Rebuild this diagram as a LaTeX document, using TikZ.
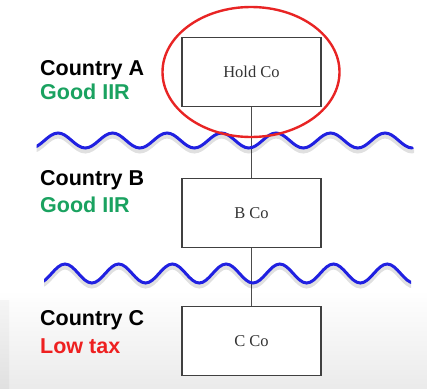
\documentclass[tikz,border=0pt]{standalone}
\usepackage{fontspec}
\setmainfont{Liberation Serif}
\newfontfamily\labelfont{Liberation Sans}
\begin{document}
\begin{tikzpicture}[x=1pt,y=-1pt,
  company/.style={draw=black!75,line width=1.4pt,fill=white,minimum width=139pt,
    minimum height=69pt,inner sep=0pt,font=\fontsize{16.5}{18}\selectfont,text=black!80},
  country/.style={anchor=base west,inner sep=0pt,font=\labelfont\bfseries\fontsize{21.5}{24}\selectfont},
  link/.style={draw=black!70,line width=1.4pt},
  border/.style={draw=wave,line width=3pt,line cap=round},
  bordershadow/.style={draw=black,opacity=0.12,line width=5pt,line cap=round},
]
\definecolor{goodgreen}{RGB}{26,162,96}
\definecolor{lowred}{RGB}{238,32,32}
\definecolor{wave}{RGB}{32,32,225}
\definecolor{ring}{RGB}{232,36,36}
\useasboundingbox (0,0) rectangle (427,388);

% pale grey fade along the bottom edge
\shade[top color=white,bottom color=black!8] (0,290) rectangle (427,388);
\shade[top color=black!4,bottom color=black!12] (0,300) rectangle (9,388);

% companies
\node[company] (hold) at (251.5,72) {Hold Co};
\node[company] (bco) at (251.5,213) {B Co};
\node[company] (cco) at (251.5,341) {C Co};

\draw[link] (hold.south) -- (bco.north);
\draw[link] (bco.south) -- (cco.north);

% border between countries A and B: seven periods of 54.5pt, built from quarter waves
\begin{scope}
  \clip (36.5,100) rectangle (414,170);
  \draw[bordershadow] (30.8,151) \foreach \k in {1,...,7} {
    cos ++(13.625,-7.5) sin ++(13.625,-7.5) cos ++(13.625,7.5) sin ++(13.625,7.5)};
  \draw[border] (30.8,148) \foreach \k in {1,...,7} {
    cos ++(13.625,-7.5) sin ++(13.625,-7.5) cos ++(13.625,7.5) sin ++(13.625,7.5)};
\end{scope}
% border between countries B and C: seven periods of 53.7pt
\begin{scope}
  \clip (44,240) rectangle (411,300);
  \draw[bordershadow] (38.15,286) \foreach \k in {1,...,7} {
    cos ++(13.425,-9.5) sin ++(13.425,-9.5) cos ++(13.425,9.5) sin ++(13.425,9.5)};
  \draw[border] (38.15,283) \foreach \k in {1,...,7} {
    cos ++(13.425,-9.5) sin ++(13.425,-9.5) cos ++(13.425,9.5) sin ++(13.425,9.5)};
\end{scope}

% highlight around the holding company
\draw[ring,line width=2.4pt] (251,72) ellipse [x radius=88.5,y radius=65];

% country labels
\node[country] (ca) at (40,75) {Country A};
\node[country,text=goodgreen] (ia) at (40,99) {Good IIR};
\node[country] (cb) at (40,185) {Country B};
\node[country,text=goodgreen] (ib) at (40,212) {Good IIR};
\node[country] (cc) at (40,325) {Country C};
\node[country,text=lowred] (tc) at (40,353) {Low tax};
\end{tikzpicture}
\end{document}
